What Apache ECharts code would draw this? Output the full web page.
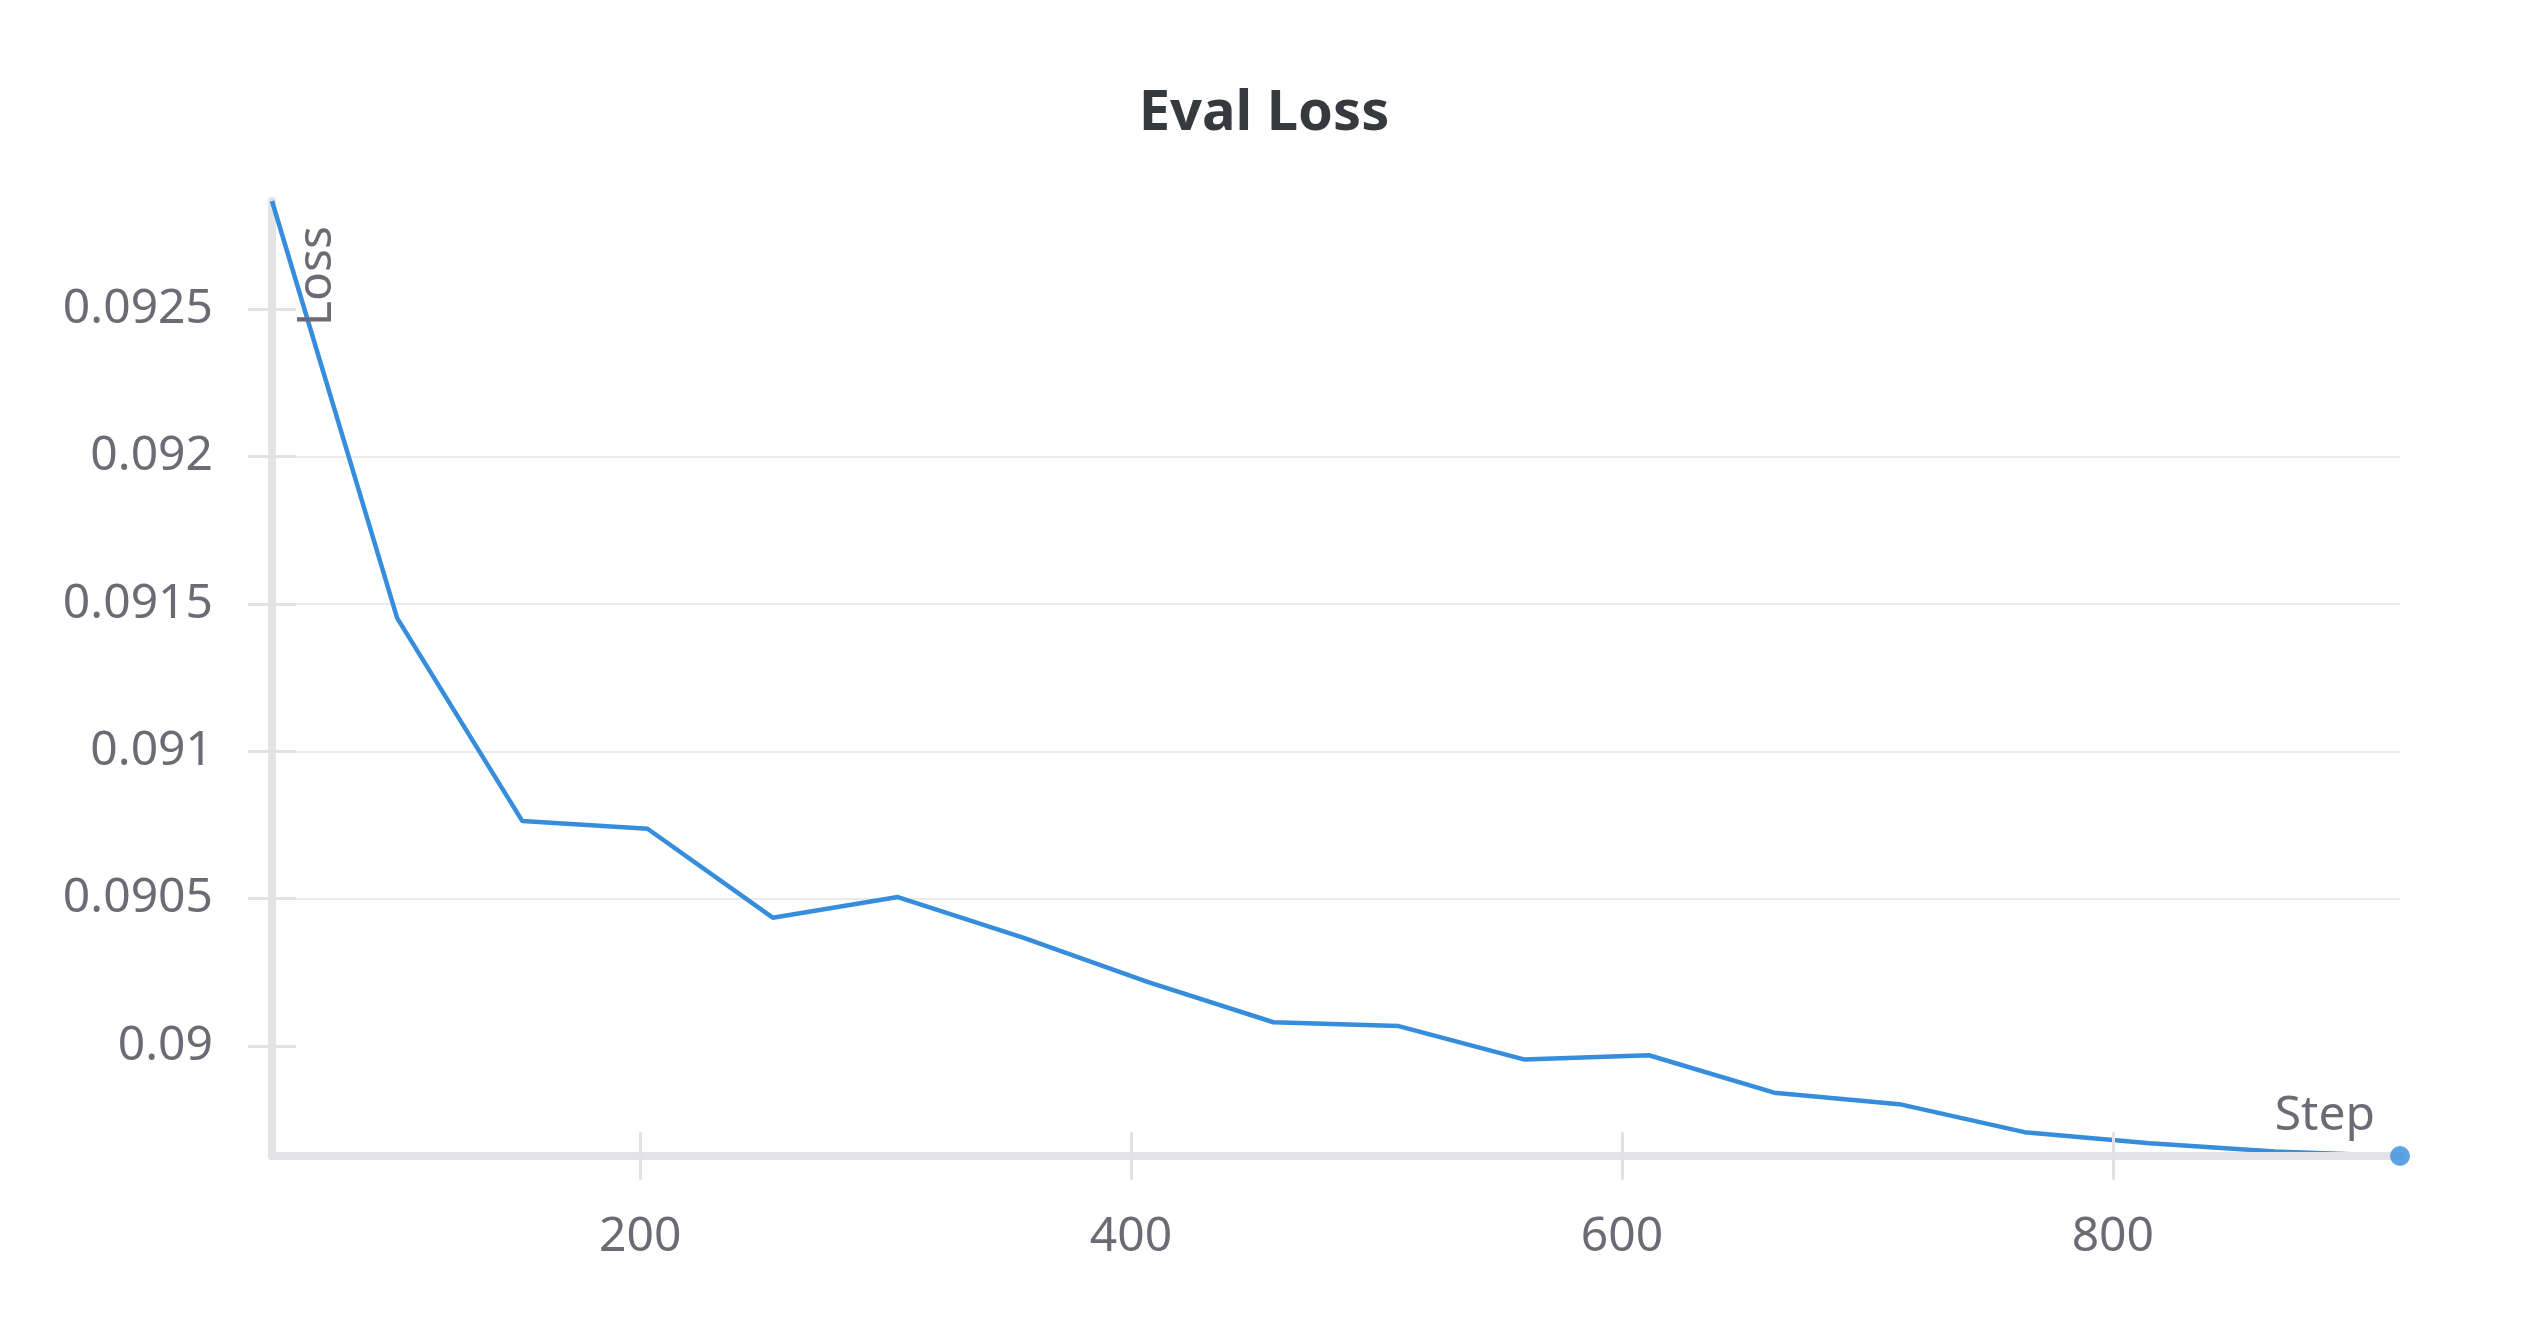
<!DOCTYPE html>
<html>
<head>
<meta charset="utf-8">
<script src="https://cdn.jsdelivr.net/npm/echarts@6/dist/echarts.min.js"></script>
<style>
  html, body { margin: 0; padding: 0; background: #ffffff; }
  #chart { width: 2528px; height: 1328px; }
</style>
</head>
<body>
<div id="chart"></div>
<script>
// ---- data ----
const titleText = 'Eval Loss';
const xAxisName = 'Step';
const yAxisName = 'Loss';
const steps = [50, 101, 152, 203, 254, 305, 356, 407, 458, 509, 560, 611, 662, 713, 764, 815, 866, 917];
const loss = [0.092868, 0.091452, 0.090763, 0.090737, 0.090435, 0.090505, 0.090367, 0.090216, 0.090080,
              0.090067, 0.089954, 0.089968, 0.089841, 0.089802, 0.089707, 0.089669, 0.089641, 0.089626];
const xTicks = [200, 400, 600, 800];
const yTicks = [0.09, 0.0905, 0.091, 0.0915, 0.092, 0.0925];

// ---- build ----
const seriesData = steps.map((s, i) => [s, loss[i]]);
const lastPoint = [seriesData[seriesData.length - 1]];
const xMin = Math.min(...steps), xMax = Math.max(...steps);
const yMin = Math.min(...loss), yMax = Math.max(...loss);

const FONT = '"Noto Sans", "DejaVu Sans", sans-serif';
const LABEL_COLOR = '#6b6b76';
const AXIS_COLOR = '#e4e4e7';
const TICK_COLOR = '#e2e2e4';
const GRID_COLOR = '#ebebed';
const LINE_COLOR = '#368ddb';
const fmt = v => String(parseFloat(Number(v).toFixed(6)));

const chart = echarts.init(document.getElementById('chart'), null, { renderer: 'canvas' });
chart.setOption({
  animation: false,
  backgroundColor: '#ffffff',
  title: {
    text: titleText,
    left: 'center',
    top: 81,
    textStyle: { fontFamily: FONT, fontSize: 56, fontWeight: 'bold', color: '#36393d' }
  },
  grid: { left: 272, right: 128, top: 201, bottom: 172, containLabel: false },
  xAxis: [
    {
      type: 'value', min: xMin, max: xMax, position: 'bottom', z: 3,
      axisLine: { show: true, lineStyle: { color: AXIS_COLOR, width: 8 } },
      axisTick: { show: true, inside: false, length: 24, customValues: xTicks, lineStyle: { color: TICK_COLOR, width: 3 } },
      axisLabel: { show: true, margin: 57, customValues: xTicks, formatter: fmt,
                   fontFamily: FONT, fontSize: 48, color: LABEL_COLOR },
      splitLine: { show: false }
    },
    {
      type: 'value', min: xMin, max: xMax, position: 'bottom', z: 3,
      axisLine: { show: false },
      axisTick: { show: true, inside: true, length: 24, customValues: xTicks, lineStyle: { color: TICK_COLOR, width: 3 } },
      axisLabel: { show: false },
      splitLine: { show: false }
    }
  ],
  yAxis: [
    {
      type: 'value', min: yMin, max: yMax, position: 'left',
      axisLine: { show: true, lineStyle: { color: AXIS_COLOR, width: 8 } },
      axisTick: { show: true, inside: false, length: 24, customValues: yTicks, lineStyle: { color: TICK_COLOR, width: 3 } },
      axisLabel: { show: true, margin: 59, customValues: yTicks, formatter: fmt,
                   fontFamily: FONT, fontSize: 48, color: LABEL_COLOR },
      splitLine: { show: true, showMinLine: false, showMaxLine: false, lineStyle: { color: GRID_COLOR, width: 2 } }
    },
    {
      type: 'value', min: yMin, max: yMax, position: 'left',
      axisLine: { show: false },
      axisTick: { show: true, inside: true, length: 24, customValues: yTicks, lineStyle: { color: TICK_COLOR, width: 3 } },
      axisLabel: { show: false },
      splitLine: { show: false }
    }
  ],
  graphic: [
    {
      type: 'text', x: 293, y: 226, rotation: Math.PI / 2, z: 10,
      style: { text: yAxisName, align: 'right', verticalAlign: 'top',
               font: '48px ' + FONT, fill: LABEL_COLOR }
    },
    {
      type: 'text', x: 2375, y: 1116, z: 10,
      style: { text: xAxisName, align: 'right', verticalAlign: 'middle',
               font: '48px ' + FONT, fill: LABEL_COLOR }
    }
  ],
  series: [
    {
      type: 'line', xAxisIndex: 0, yAxisIndex: 0, z: 2,
      data: seriesData,
      showSymbol: false, symbol: 'none',
      lineStyle: { color: LINE_COLOR, width: 4.5 },
      clip: false
    },
    {
      type: 'scatter', xAxisIndex: 0, yAxisIndex: 0, z: 10,
      data: lastPoint,
      symbol: 'circle', symbolSize: 20,
      itemStyle: { color: LINE_COLOR }
    }
  ]
});
</script>
</body>
</html>
